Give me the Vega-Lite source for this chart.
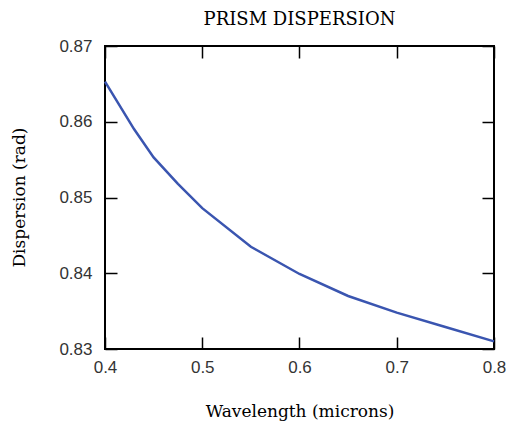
{
  "$schema": "https://vega.github.io/schema/vega-lite/v6.json",
  "autosize": "none",
  "width": 389,
  "height": 303,
  "padding": {"left": 105, "top": 46, "right": 17, "bottom": 73},
  "background": "white",
  "title": {
    "text": "PRISM DISPERSION",
    "font": "DejaVu Serif",
    "fontSize": 18,
    "fontWeight": "normal",
    "color": "black",
    "anchor": "middle",
    "baseline": "alphabetic",
    "offset": -6
  },
  "config": {
    "view": {"stroke": "black", "strokeWidth": 2},
    "axis": {"grid": false, "domain": false}
  },
  "data": {
    "values": [
      {"w": 0.40, "d": 0.8653},
      {"w": 0.43, "d": 0.8590},
      {"w": 0.45, "d": 0.8553},
      {"w": 0.475, "d": 0.8518},
      {"w": 0.50, "d": 0.8486},
      {"w": 0.55, "d": 0.8435},
      {"w": 0.60, "d": 0.8399},
      {"w": 0.65, "d": 0.8370},
      {"w": 0.70, "d": 0.8348},
      {"w": 0.75, "d": 0.8329},
      {"w": 0.80, "d": 0.8310}
    ]
  },
  "layer": [
    {
      "mark": {"type": "line", "color": "#3a55b0", "strokeWidth": 2.5},
      "encoding": {
        "x": {
          "field": "w", "type": "quantitative",
          "scale": {"domain": [0.4, 0.8], "nice": false, "zero": false},
          "axis": {
            "orient": "bottom", "values": [0.4, 0.5, 0.6, 0.7, 0.8], "format": ".1f",
            "title": "Wavelength (microns)", "titleFont": "DejaVu Serif", "titleFontSize": 17,
            "titleFontWeight": "normal", "titleColor": "black", "titleBaseline": "alphabetic", "titleY": 67,
            "labelFont": "Liberation Sans", "labelFontSize": 17, "labelColor": "#333", "labelFlush": false,
            "labelPadding": 22, "tickSize": -12, "tickColor": "black", "tickWidth": 1.5
          }
        },
        "y": {
          "field": "d", "type": "quantitative",
          "scale": {"domain": [0.83, 0.87], "nice": false, "zero": false},
          "axis": {
            "orient": "left", "values": [0.83, 0.84, 0.85, 0.86, 0.87], "format": ".2f",
            "title": "Dispersion (rad)", "titleFont": "DejaVu Serif", "titleFontSize": 17,
            "titleFontWeight": "normal", "titleColor": "black", "titleBaseline": "alphabetic",
            "titleX": -81, "titleY": 151,
            "labelFont": "Liberation Sans", "labelFontSize": 17, "labelColor": "#333", "labelFlush": false,
            "labelPadding": 25, "tickSize": -12, "tickColor": "black", "tickWidth": 1.5
          }
        }
      }
    },
    {
      "mark": {"type": "line", "opacity": 0},
      "encoding": {
        "x": {
          "field": "w", "type": "quantitative",
          "axis": {"orient": "top", "values": [0.4, 0.5, 0.6, 0.7, 0.8], "labels": false, "title": null,
            "tickSize": -12, "tickColor": "black", "tickWidth": 1.5}
        },
        "y": {
          "field": "d", "type": "quantitative",
          "axis": {"orient": "right", "values": [0.83, 0.84, 0.85, 0.86, 0.87], "labels": false, "title": null,
            "tickSize": -12, "tickColor": "black", "tickWidth": 1.5}
        }
      }
    }
  ],
  "resolve": {"axis": {"x": "independent", "y": "independent"}}
}
